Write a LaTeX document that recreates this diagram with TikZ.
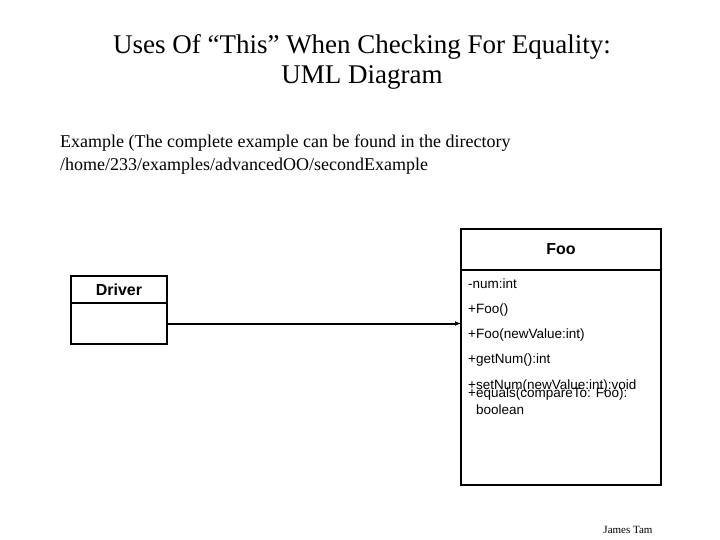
\documentclass[tikz,border=0pt]{standalone}
\usepackage{fontspec}
\setmainfont{Liberation Serif}
\newfontfamily\umlfont{Liberation Sans}
\usetikzlibrary{arrows.meta,positioning}

\tikzset{
  umlbox/.style={draw,line width=2pt,inner sep=0pt,outer sep=0pt},
  member/.style={anchor=base west,inner sep=0pt,font=\umlfont\fontsize{13.5}{17}\selectfont}
}

\begin{document}
\begin{tikzpicture}[x=1pt,y=-1pt,>={Latex[length=6pt,width=5pt]}]
 \useasboundingbox (0,0) rectangle (720,540);
 \node (title) at (362,62) [align=center,font=\fontsize{27}{30}\selectfont]
   {Uses Of “This” When Checking For Equality:\\UML Diagram};
 \node (intro) at (60,155) [anchor=west,align=left,inner sep=0pt,font=\fontsize{18}{23}\selectfont]
   {Example (The complete example can be found in the directory\\/home/233/examples/advancedOO/secondExample};
 % Driver class
 \node[umlbox,anchor=north west,minimum width=96pt,minimum height=27pt,font=\umlfont\bfseries\fontsize{16}{18}\selectfont] (drvhead) at (71,276) {Driver};
 \node[umlbox,anchor=north,minimum width=96pt,minimum height=41pt] (drvbody) at (drvhead.south) {};
 % Foo class
 \node[umlbox,anchor=north west,minimum width=200pt,minimum height=41pt,font=\umlfont\bfseries\fontsize{16}{18}\selectfont] (foohead) at (461,229) {Foo};
 \node[umlbox,anchor=north,minimum width=200pt,minimum height=215pt] (foobody) at (foohead.south) {};
 \node[member] (num) at (468,288) {-num:int};
 \node[member] (ctor) at (468,313) {+Foo()};
 \node[member] (ctorval) at (468,338) {+Foo(newValue:int)};
 \node[member] (getnum) at (468,363) {+getNum():int};
 \node[member] (setnum) at (468,389) {+setNum(newValue:int):void};
 \node[member,align=left] (equals) at (468,414) {+equals(compareTo: Foo):\\\hspace{8pt}boolean};
 % association
 \coordinate (drvout) at (drvbody.east);
 \draw[->,line width=2pt] (drvout) -- (drvout -| foobody.west);
 \node (author) at (628,530) {\fontsize{11}{13}\selectfont James Tam};
\end{tikzpicture}
\end{document}
